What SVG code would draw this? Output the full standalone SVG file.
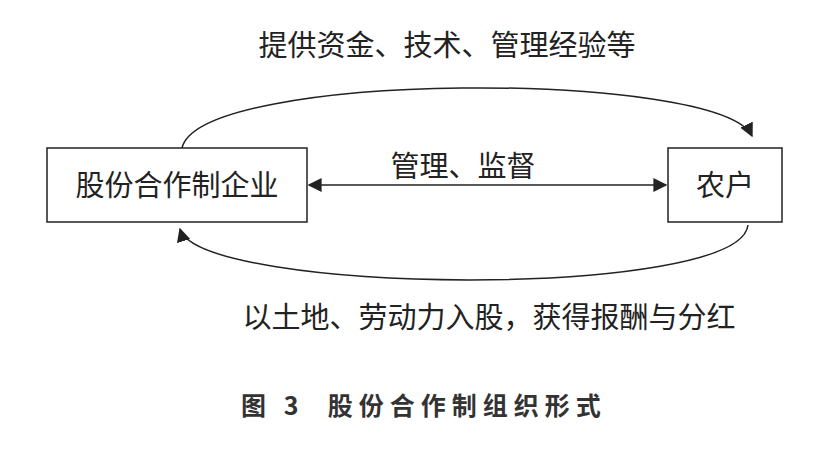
<svg xmlns="http://www.w3.org/2000/svg" width="839" height="457" viewBox="0 0 839 457">
<style>
.t{font-family:"Liberation Serif","Noto Sans CJK SC",serif;font-size:29px;fill:#222}
.b{fill:#fff;stroke:#222;stroke-width:1.5}
.c{fill:none;stroke:#222;stroke-width:1.5}
.cap{font-family:"Noto Sans CJK SC",sans-serif;font-size:25px;font-weight:bold;fill:#333;letter-spacing:6px}
</style>
<defs>
<marker id="a2" viewBox="0 0 10 10" refX="9" refY="5" markerWidth="14" markerHeight="14" markerUnits="userSpaceOnUse" orient="auto-start-reverse"><path d="M0,0 L10,5 L0,10 Z" fill="#222"/></marker>
</defs>
<rect width="839" height="457" fill="#fff"/>
<g id="connectors">
<path class="c" d="M182,148 C200,70 720,70 752,136" marker-end="url(#a2)"/>
<path class="c" d="M748,225 C740,300 200,295 180,229" marker-end="url(#a2)"/>
<line class="c" x1="309" y1="185" x2="666" y2="185" marker-start="url(#a2)" marker-end="url(#a2)"/>
</g>
<g id="n1"><rect class="b" x="47" y="148" width="260" height="74"/><text class="t" x="177" y="196" text-anchor="middle">股份合作制企业</text></g>
<g id="n2"><rect class="b" x="668" y="148" width="114" height="74"/><text class="t" x="725" y="196" text-anchor="middle">农户</text></g>
<text class="t" x="447" y="56" text-anchor="middle">提供资金、技术、管理经验等</text>
<text class="t" x="463" y="177" text-anchor="middle">管理、监督</text>
<text class="t" x="489" y="328" text-anchor="middle">以土地、劳动力入股，获得报酬与分红</text>
<text class="cap" x="241" y="415" xml:space="preserve">图 3  股份合作制组织形式</text>
</svg>
